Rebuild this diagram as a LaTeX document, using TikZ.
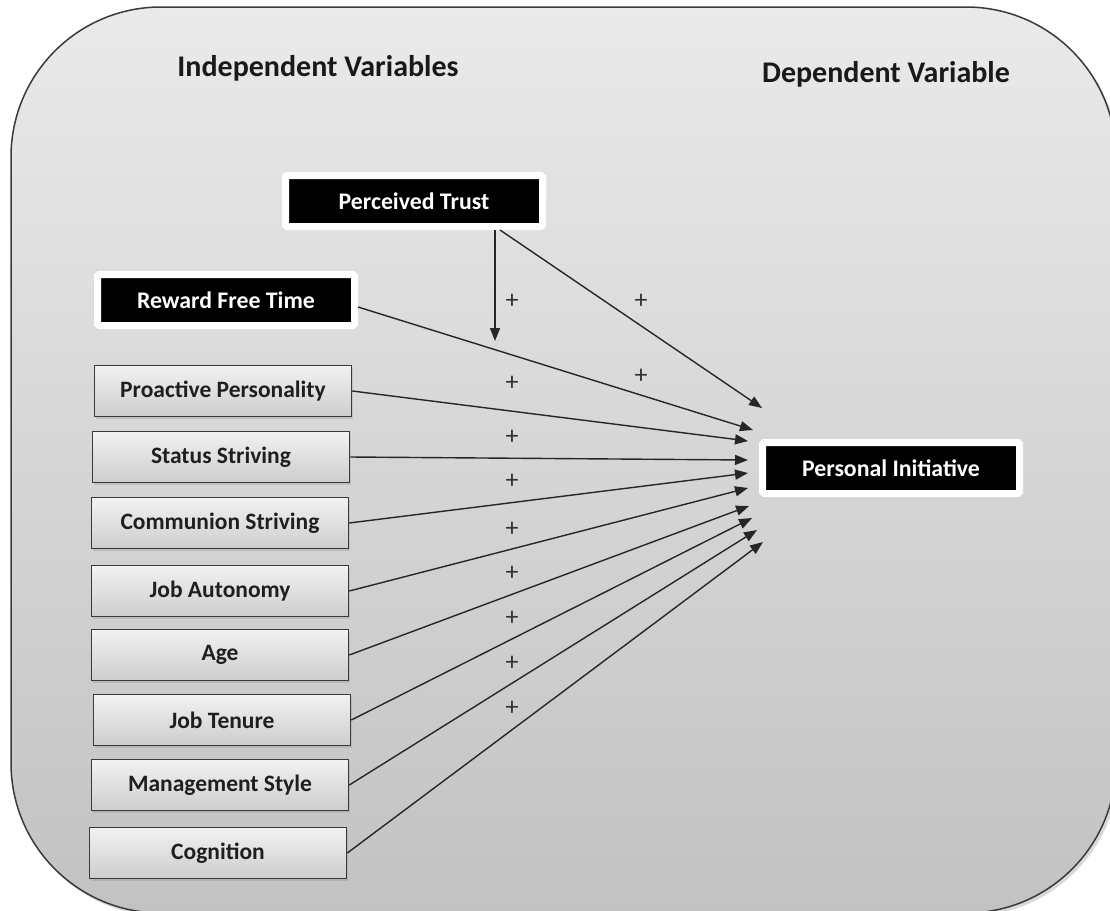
\documentclass[tikz,border=0pt]{standalone}
\usepackage{fontspec}
\setmainfont{Carlito}
\usetikzlibrary{arrows.meta,shadows}
\definecolor{bgtop}{HTML}{EAEAEA}
\definecolor{bgbot}{HTML}{C2C2C2}
\definecolor{frame}{HTML}{3A3A3A}
\definecolor{boxtop}{HTML}{F2F2F2}
\definecolor{boxbot}{HTML}{CDCDCD}
\begin{document}
\begin{tikzpicture}[x=1pt,y=-1pt,
  title/.style={font=\fontsize{30}{36}\selectfont\bfseries, text=black!90},
  graybox/.style={draw=frame, line width=1.6pt, top color=boxtop, bottom color=boxbot,
    minimum width=257pt, minimum height=51pt, inner sep=0pt,
    font=\fontsize{23.5}{28}\selectfont\bfseries, text=black!88,
    drop shadow={opacity=0.25, shadow xshift=1.5pt, shadow yshift=-2pt}},
  blackbox/.style={draw=white, line width=7pt, fill=black, rounded corners=1.5pt,
    minimum width=257pt, minimum height=51pt, inner sep=0pt,
    font=\fontsize{23.8}{28}\selectfont\bfseries, text=white,
    drop shadow={opacity=0.25, shadow xshift=1.5pt, shadow yshift=-2pt}},
  arr/.style={draw=black!85, line width=1.4pt, -{Triangle[length=13pt,width=10pt]}},
  plus/.style={font=\fontsize{26}{30}\selectfont, text=black!80, inner sep=0pt}
]
\useasboundingbox (0,0) rectangle (1110,910);
\begin{scope}
\clip (0,0) rectangle (1110,910);
\fill[black, opacity=0.15, rounded corners=150pt] (13,10) rectangle (1119,916);
\draw[rounded corners=150pt, top color=bgtop, bottom color=bgbot, draw=frame, line width=1.5pt]
  (11,7) rectangle (1116,913);
\end{scope}

\node[title] (iv) at (318,68) {Independent Variables};
\node[title] (dv) at (886,74) {Dependent Variable};

\node[blackbox] (pt) at (414,201) {Perceived Trust};
\node[blackbox] (rft) at (226,300) {Reward Free Time};
\node[blackbox] (pi) at (891,468) {Personal Initiative};

\node[graybox] (pp) at (223,391) {Proactive Personality};
\node[graybox] (ss) at (221,457) {Status Striving};
\node[graybox] (cs) at (220,523) {Communion Striving};
\node[graybox] (ja) at (220,591) {Job Autonomy};
\node[graybox] (age) at (220,655) {Age};
\node[graybox] (jt) at (222,720) {Job Tenure};
\node[graybox] (ms) at (220,785) {Management Style};
\node[graybox] (cog) at (218,853) {Cognition};

\coordinate (m) at (495,341);
\coordinate (t0) at (762,408);
\coordinate (t1) at (753,430);
\coordinate (t2) at (748,441);
\coordinate (t3) at (748,460);
\coordinate (t4) at (748,473);
\coordinate (t5) at (748,488);
\coordinate (t6) at (749,506);
\coordinate (t7) at (752,518);
\coordinate (t8) at (757,530);
\coordinate (t9) at (763,542);

\draw[arr] ([xshift=81pt]pt.south) -- (m);
\draw[arr] ([xshift=86pt]pt.south) -- (t0);
\draw[arr] ([yshift=-7pt]rft.east) -- (t1);
\draw[arr] (pp.east) -- (t2);
\draw[arr] (ss.east) -- (t3);
\draw[arr] (cs.east) -- (t4);
\draw[arr] (ja.east) -- (t5);
\draw[arr] (age.east) -- (t6);
\draw[arr] (jt.east) -- (t7);
\draw[arr] (ms.east) -- (t8);
\draw[arr] (cog.east) -- (t9);

\node[plus] (p1) at (512,301) {+};
\node[plus] (p2) at (641,301) {+};
\node[plus] (p3) at (641,376) {+};
\node[plus] (p4) at (512,383) {+};
\node[plus] (p5) at (512,437) {+};
\node[plus] (p6) at (512,481) {+};
\node[plus] (p7) at (512,529) {+};
\node[plus] (p8) at (512,573) {+};
\node[plus] (p9) at (512,618) {+};
\node[plus] (p10) at (512,663) {+};
\node[plus] (p11) at (512,708) {+};
\end{tikzpicture}
\end{document}
